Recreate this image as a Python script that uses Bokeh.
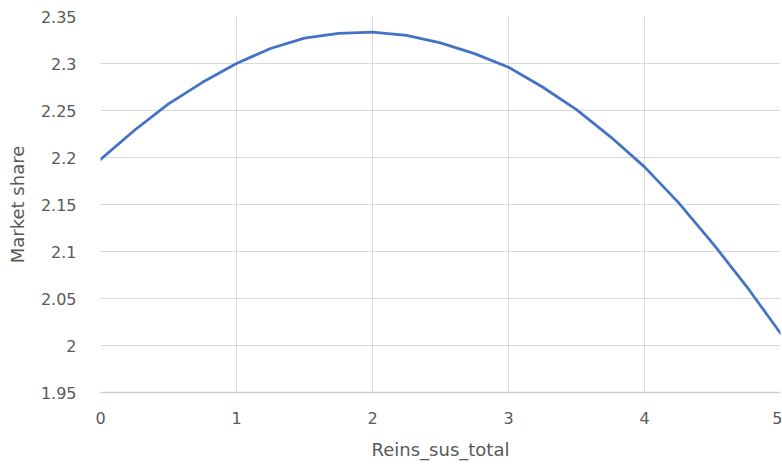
from bokeh.plotting import figure
from bokeh.models import Range1d, FixedTicker
from bokeh.embed import file_html
from bokeh.resources import INLINE

# Data
reins_sus_total = [0.0, 0.25, 0.5, 0.75, 1.0, 1.25, 1.5, 1.75, 2.0, 2.25, 2.5,
                   2.75, 3.0, 3.25, 3.5, 3.75, 4.0, 4.25, 4.5, 4.75, 5.0]
market_share = [2.198, 2.229, 2.257, 2.280, 2.300, 2.316, 2.327, 2.332, 2.3335, 2.330, 2.322,
                2.3105, 2.296, 2.275, 2.251, 2.222, 2.190, 2.152, 2.109, 2.063, 2.013]

x_ticks = [0, 1, 2, 3, 4, 5]
y_ticks = [1.95, 2.0, 2.05, 2.1, 2.15, 2.2, 2.25, 2.3, 2.35]
y_tick_labels = ["1.95", "2", "2.05", "2.1", "2.15", "2.2", "2.25", "2.3", "2.35"]

FONT = "DejaVu Sans"
TXT = "#595959"
GRID = "#d9d9d9"

p = figure(width=782, height=467, output_backend="svg", toolbar_location=None,
           x_range=Range1d(0, 5), y_range=Range1d(1.95, 2.35),
           min_border_left=100, min_border_right=2, min_border_top=16, min_border_bottom=75)
p.outline_line_color = None
p.background_fill_color = "white"
p.border_fill_color = "white"

p.line(reins_sus_total, market_share, line_color="#4472C4", line_width=2.75,
       line_join="round", line_cap="round")

p.xaxis.ticker = FixedTicker(ticks=x_ticks)
p.yaxis.ticker = FixedTicker(ticks=y_ticks)
p.yaxis.major_label_overrides = {v: s for v, s in zip(y_ticks, y_tick_labels)}

for ax in (p.xaxis[0], p.yaxis[0]):
    ax.major_tick_line_color = None
    ax.minor_tick_line_color = None
    ax.major_label_text_font = FONT
    ax.major_label_text_font_size = "16px"
    ax.major_label_text_color = TXT
    ax.axis_label_text_font = FONT
    ax.axis_label_text_font_size = "18px"
    ax.axis_label_text_font_style = "normal"
    ax.axis_label_text_color = TXT

p.yaxis.axis_line_color = None
p.xaxis.axis_line_color = "#cfcfcf"
p.xaxis.axis_line_width = 1.5
p.xaxis.axis_label = "Reins_sus_total"
p.yaxis.axis_label = "Market share"
p.xaxis.major_label_standoff = 13
p.yaxis.major_label_standoff = 18
p.xaxis.axis_label_standoff = 12
p.yaxis.axis_label_standoff = 10

p.xgrid.grid_line_color = GRID
p.ygrid.grid_line_color = GRID
p.xgrid.grid_line_width = 1
p.ygrid.grid_line_width = 1

open("out.html", "w").write(file_html(p, INLINE))
